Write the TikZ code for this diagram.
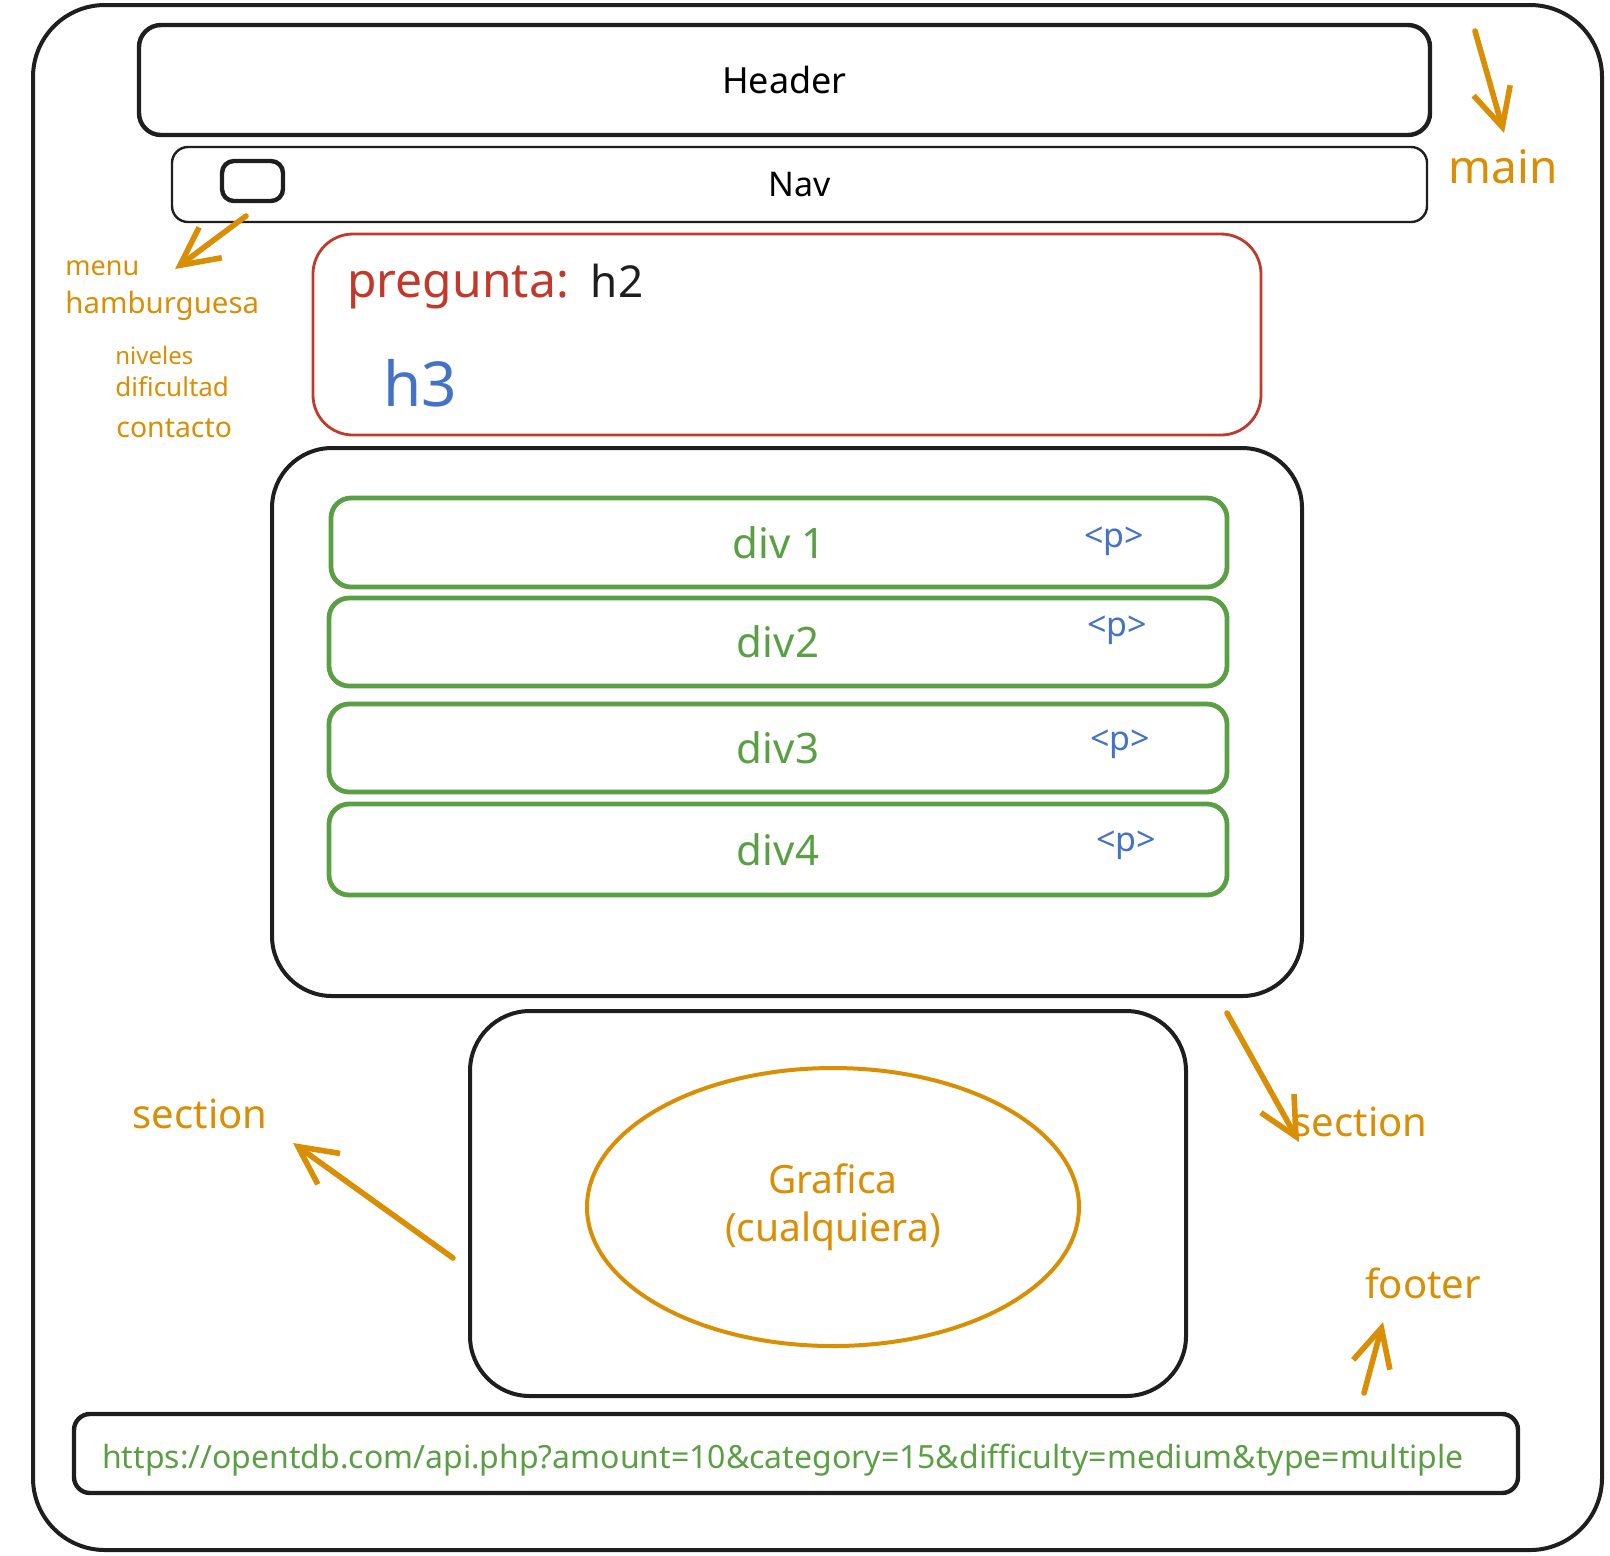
\documentclass[tikz,border=0pt]{standalone}
\usepackage{fontspec}
\setmainfont{Noto Sans}
\usetikzlibrary{arrows.meta,shapes.geometric}
\definecolor{ink}{HTML}{1E1E1E}
\definecolor{orng}{HTML}{D98E04}
\definecolor{rd}{HTML}{C0392B}
\definecolor{blu}{HTML}{4472C4}
\definecolor{grn}{HTML}{5B9F45}
\tikzset{
  box/.style={draw=ink, line width=2pt, inner sep=0pt, outer sep=0pt},
  greenbox/.style={draw=grn, line width=2.4pt, rounded corners=10pt, inner sep=0pt, outer sep=0pt, text=grn, font=\fontsize{21}{25}\selectfont},
  ptag/.style={text=blu, font=\fontsize{17}{20}\selectfont, inner sep=0pt},
  note/.style={text=orng, inner sep=0pt},
  annarrow/.style={draw=orng, line width=2.8pt, line cap=round, -{Straight Barb[length=19pt,width=19pt,line width=2.8pt]}},
}
\begin{document}
\begin{tikzpicture}[x=0.5pt,y=-0.5pt]
\useasboundingbox (0,0) rectangle (1610,1555);

% outer frame
\node[box, rounded corners=36pt, minimum width=784.5pt, minimum height=772.5pt] (frame) at (817.5,777.5) {};

% header and nav
\node[box, line width=2.2pt, rounded corners=11pt, minimum width=645.5pt, minimum height=55pt, font=\fontsize{18}{22}\selectfont] (header) at (784.5,80) {Header};
\node[box, line width=1.2pt, rounded corners=8pt, minimum width=627.5pt, minimum height=37.5pt, font=\fontsize{17}{20}\selectfont] (nav) at (799.5,184.5) {Nav};
\node[box, line width=2.2pt, rounded corners=6pt, minimum width=30.5pt, minimum height=20pt] (burger) at (252.5,181) {};

% hamburger annotations
\coordinate (burgerA) at (246,216);
\coordinate (burgerB) at (175,269);
\draw[annarrow] (burgerA) -- (burgerB);
\node[note, anchor=west, font=\fontsize{13.5}{16}\selectfont] (menu) at (65,268) {menu};
\node[note, anchor=west, font=\fontsize{14.7}{17}\selectfont] (hamb) at (65,306) {hamburguesa};
\node[note, anchor=west, font=\fontsize{12}{14}\selectfont] (niv) at (115,355) {niveles};
\node[note, anchor=west, font=\fontsize{13}{15}\selectfont] (dif) at (115,387) {dificultad};
\node[note, anchor=west, font=\fontsize{14.2}{16}\selectfont] (cont) at (116,428) {contacto};

% main annotation
\coordinate (mainA) at (1475,31);
\coordinate (mainB) at (1504,133);
\draw[annarrow] (mainA) -- (mainB);
\node[note, font=\fontsize{23}{27}\selectfont] (mainlbl) at (1503,167) {main};

% question box
\node[draw=rd, line width=1.4pt, rounded corners=20pt, minimum width=474pt, minimum height=100.5pt, inner sep=0pt] (pregbox) at (787,334.5) {};
\node[anchor=west, inner sep=0pt, font=\fontsize{24}{28}\selectfont] (preg) at (347,287) {\textcolor{rd}{pregunta:}\hspace{11pt}\textcolor{ink}{\fontsize{22}{26}\selectfont h2}};
\node[anchor=west, inner sep=0pt, text=blu, font=\fontsize{31}{36}\selectfont] (h3) at (383,383) {h3};

% answers box
\node[box, rounded corners=30pt, minimum width=515pt, minimum height=274pt] (answers) at (787,722) {};
\node[greenbox, minimum width=448pt, minimum height=44.5pt] (div1) at (779,542.5) {div 1};
\node[greenbox, minimum width=449pt, minimum height=44pt] (div2) at (778,642) {div2};
\node[greenbox, minimum width=449pt, minimum height=44pt] (div3) at (778,748) {div3};
\node[greenbox, minimum width=449pt, minimum height=45.5pt] (div4) at (778,849.5) {div4};
\node[ptag] (p1) at (1114,541) {<p>};
\node[ptag] (p2) at (1117,630) {<p>};
\node[ptag] (p3) at (1120,744) {<p>};
\node[ptag] (p4) at (1126,845) {<p>};

% chart section
\node[box, rounded corners=30pt, minimum width=358pt, minimum height=192.5pt] (chartbox) at (828,1203.5) {};
\node[ellipse, draw=orng, line width=2pt, minimum width=246pt, minimum height=139pt, inner sep=0pt, text=orng, align=center, font=\fontsize{19.5}{24}\selectfont] (chart) at (833,1207) {Grafica\\(cualquiera)};

% section annotations
\node[note, font=\fontsize{20}{24}\selectfont] (secL) at (200,1114) {section};
\coordinate (secLA) at (453,1258);
\coordinate (secLB) at (293,1143);
\draw[annarrow] (secLA) -- (secLB);
\node[note, font=\fontsize{20}{24}\selectfont] (secR) at (1360,1122) {section};
\coordinate (secRA) at (1227,1013);
\coordinate (secRB) at (1299,1142);
\draw[annarrow] (secRA) -- (secRB);

% footer
\node[note, font=\fontsize{20}{24}\selectfont] (footlbl) at (1423,1283) {footer};
\coordinate (footA) at (1364,1393);
\coordinate (footB) at (1383,1322);
\draw[annarrow] (footA) -- (footB);
\node[box, line width=2.2pt, rounded corners=8pt, minimum width=722pt, minimum height=39.5pt] (footer) at (796,1453.5) {};
\node[inner sep=0pt, text=grn, font=\fontsize{16}{20}\selectfont] (url) at (783,1460) {https://opentdb.com/api.php?amount=10\&category=15\&difficulty=medium\&type=multiple};
\end{tikzpicture}
\end{document}
